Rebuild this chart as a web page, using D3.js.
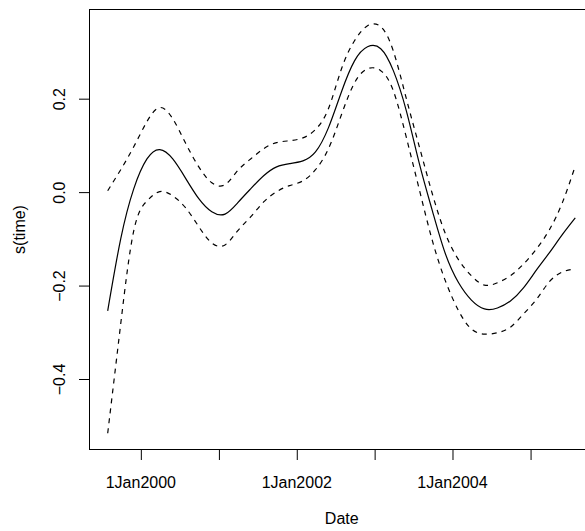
<!DOCTYPE html>
<html>
<head>
<meta charset="utf-8">
<script src="https://cdn.jsdelivr.net/npm/d3@7"></script>
<style>
  html, body { margin: 0; padding: 0; background: #fff; }
  svg { display: block; }
  text { font-family: "Liberation Sans", Arial, Helvetica, sans-serif; fill: #000; }
</style>
</head>
<body>
<svg id="chart" width="585" height="531"></svg>
<script>
// Smooth term s(time) with approximate 95% band, sampled every two months
const dates = [
  "1999-08-01","1999-10-01","1999-12-01","2000-02-01","2000-04-01","2000-06-01",
  "2000-08-01","2000-10-01","2000-12-01","2001-02-01","2001-04-01","2001-06-01",
  "2001-08-01","2001-10-01","2001-12-01","2002-02-01","2002-04-01","2002-06-01",
  "2002-08-01","2002-10-01","2002-12-01","2003-02-01","2003-04-01","2003-06-01",
  "2003-08-01","2003-10-01","2003-12-01","2004-02-01","2004-04-01","2004-06-01",
  "2004-08-01","2004-10-01","2004-12-01","2005-02-01","2005-04-01","2005-06-01",
  "2005-08-01"
];
const fit = [
  -0.254, -0.100, 0.007, 0.071, 0.091, 0.071,
  0.029, -0.014, -0.042, -0.047, -0.023, 0.007,
  0.035, 0.054, 0.061, 0.067, 0.086, 0.138,
  0.215, 0.281, 0.311, 0.307, 0.260, 0.174,
  0.061, -0.040, -0.132, -0.194, -0.231, -0.250,
  -0.248, -0.233, -0.205, -0.166, -0.130, -0.091,
  -0.055
];
const upper = [
  0.003, 0.048, 0.097, 0.151, 0.181, 0.157,
  0.104, 0.054, 0.020, 0.016, 0.046, 0.071,
  0.093, 0.106, 0.110, 0.116, 0.134, 0.179,
  0.264, 0.324, 0.356, 0.354, 0.302, 0.200,
  0.097, -0.004, -0.089, -0.145, -0.179, -0.199,
  -0.194, -0.179, -0.154, -0.121, -0.081, -0.023,
  0.056
];
const lower = [
  -0.516, -0.282, -0.083, -0.019, 0.001, -0.008,
  -0.034, -0.074, -0.109, -0.113, -0.083, -0.053,
  -0.021, 0.001, 0.014, 0.024, 0.048, 0.093,
  0.166, 0.234, 0.264, 0.260, 0.217, 0.117,
  0.005, -0.104, -0.190, -0.254, -0.293, -0.304,
  -0.301, -0.289, -0.261, -0.229, -0.192, -0.171,
  -0.164
];
const xTickDates = ["2000-01-01","2001-01-01","2002-01-01","2003-01-01","2004-01-01","2005-01-01"];
const xTickLabels = ["1Jan2000","","1Jan2002","","1Jan2004",""];
const yTicks = [-0.4, -0.2, 0.0, 0.2];
const yTickLabels = ["\u22120.4", "\u22120.2", "0.0", "0.2"];

const parse = d3.timeParse("%Y-%m-%d");
const t = dates.map(parse);

// plot region (R-style box); the right side runs past the window edge
const L = 89.5, R = 594, T = 9.5, B = 449.5;

const svg = d3.select("#chart");
svg.append("rect").attr("width", 585).attr("height", 531).attr("fill", "#fff");

// R-style 4% axis padding
function padded(ext) {
  const d = (ext[1] - ext[0]) * 0.04;
  return [ext[0] - d, ext[1] + d];
}
const tExt = d3.extent(t).map(Number);
const x = d3.scaleTime()
  .domain(padded(tExt).map(v => new Date(v)))
  .range([L - 0.5, R]);
const yExt = [d3.min(lower), d3.max(upper)];
const y = d3.scaleLinear().domain(padded(yExt)).range([B, T]);

const line = vals => d3.line()
  .x((d, i) => x(t[i]))
  .y(d => y(d))
  .curve(d3.curveNatural)(vals);

const g = svg.append("g");
g.append("path").attr("d", line(fit))
  .attr("fill", "none").attr("stroke", "#000").attr("stroke-width", 1.2);
[upper, lower].forEach(s => {
  g.append("path").attr("d", line(s))
    .attr("fill", "none").attr("stroke", "#000").attr("stroke-width", 1.2)
    .attr("stroke-dasharray", "5,5");
});

// axes
const xAxis = d3.axisBottom(x)
  .tickValues(xTickDates.map(parse))
  .tickFormat((d, i) => xTickLabels[i])
  .tickSize(10.5);
const gx = svg.append("g").attr("transform", `translate(0,${B})`).call(xAxis);
gx.select(".domain").remove();
gx.selectAll(".tick line").attr("stroke", "#000").attr("stroke-width", 1)
  .attr("transform", "translate(0.5,0)");
gx.selectAll(".tick text").attr("font-size", 16).attr("fill", "#000")
  .attr("dy", null).attr("y", 38.5);

const yAxis = d3.axisLeft(y)
  .tickValues(yTicks)
  .tickFormat((d, i) => yTickLabels[i])
  .tickSize(10.5);
const gy = svg.append("g").attr("transform", `translate(${L},0)`).call(yAxis);
gy.select(".domain").remove();
gy.selectAll(".tick line").attr("stroke", "#000").attr("stroke-width", 1);
gy.selectAll(".tick text")
  .attr("font-size", 16).attr("fill", "#000")
  .attr("x", null).attr("dy", null)
  .attr("text-anchor", "middle")
  .attr("transform", `translate(${64.5 - L},0) rotate(-90)`);

gx.attr("font-family", null);
gy.attr("font-family", null);

// box
svg.append("rect")
  .attr("x", L).attr("y", T).attr("width", R - L).attr("height", B - T)
  .attr("fill", "none").attr("stroke", "#000").attr("stroke-width", 1);

// axis titles
svg.append("text").attr("x", (L + R) / 2).attr("y", 524)
  .attr("text-anchor", "middle").attr("font-size", 16).text("Date");
svg.append("text")
  .attr("transform", `translate(25,${(T + B) / 2}) rotate(-90)`)
  .attr("text-anchor", "middle").attr("font-size", 16).text("s(time)");
</script>
</body>
</html>
